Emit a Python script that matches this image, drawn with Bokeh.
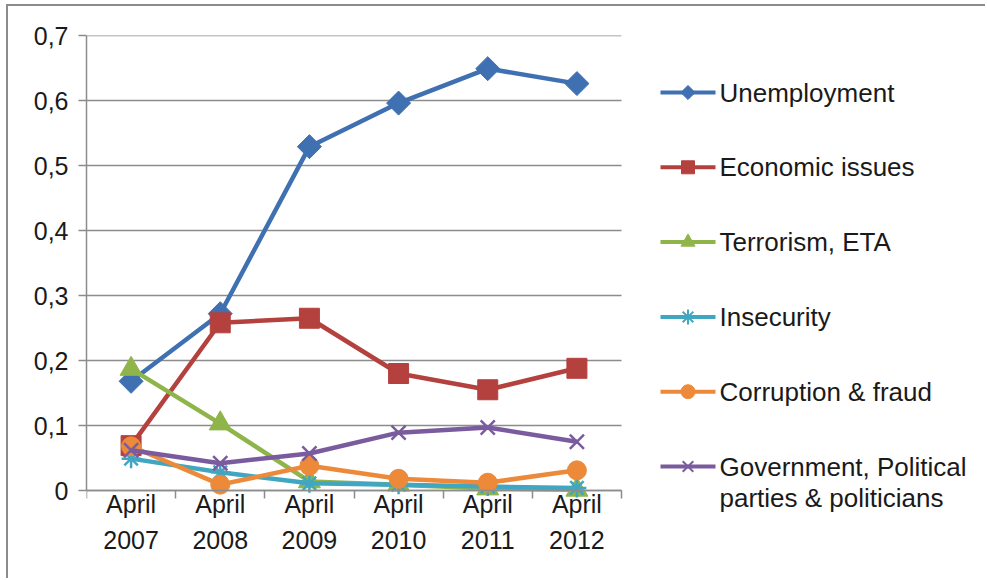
import math
from bokeh.plotting import figure
from bokeh.models import ColumnDataSource, Range1d, FixedTicker, CustomJSTickFormatter
from bokeh.core.properties import value
from bokeh.embed import file_html
from bokeh.resources import INLINE

periods = ["April\n2007", "April\n2008", "April\n2009", "April\n2010", "April\n2011", "April\n2012"]
unemployment = [0.168, 0.272, 0.529, 0.596, 0.649, 0.626]
economic = [0.069, 0.258, 0.265, 0.180, 0.155, 0.188]
terrorism = [0.187, 0.103, 0.014, 0.009, 0.003, 0.001]
insecurity = [0.049, 0.028, 0.011, 0.009, 0.006, 0.004]
corruption = [0.068, 0.009, 0.038, 0.018, 0.012, 0.031]
government = [0.062, 0.042, 0.057, 0.089, 0.097, 0.075]
series_names = ["Unemployment", "Economic issues", "Terrorism, ETA", "Insecurity",
                "Corruption & fraud", "Government, Political\nparties & politicians"]
y_ticks = [0, 0.1, 0.2, 0.3, 0.4, 0.5, 0.6, 0.7]

FONT = "Liberation Sans"
TXT = "#1a1a1a"
AX = "#8c8c8c"
n = len(periods)
xs = [i + 0.5 for i in range(n)]

# ---- layout (page pixels) ----
OFF_X, OFF_Y = 8, 6                 # outer frame border offset
FRAME_L, FRAME_R = 86, 987          # plotting frame (covers legend area too)
FRAME_T, FRAME_B = 35, 580
DATA_R = 621                        # where category axis ends
Y0_PX = 490                         # pixel row of value 0
px_per_x = (DATA_R - FRAME_L) / n
px_per_y = (Y0_PX - FRAME_T) / 0.7
x_end = (FRAME_R - FRAME_L) / px_per_x
y_start = -(FRAME_B - Y0_PX) / px_per_y


def dx(px):
    return (px - FRAME_L) / px_per_x


def dy(py):
    return (Y0_PX - py) / px_per_y


p = figure(width=987 - OFF_X, height=580 - OFF_Y, output_backend="svg", toolbar_location=None,
           x_range=Range1d(0, x_end), y_range=Range1d(y_start, 0.7),
           min_border_left=FRAME_L - OFF_X, min_border_right=0,
           min_border_top=FRAME_T - OFF_Y, min_border_bottom=0)
p.styles = {"margin-left": "6px", "margin-top": "4px",
            "border-left": "2px solid #8c8c8c", "border-top": "2px solid #8c8c8c"}
p.outline_line_color = None
p.background_fill_color = "white"
p.border_fill_color = "white"
p.xgrid.grid_line_color = None
p.ygrid.grid_line_color = None

# horizontal gridlines over the category span
p.segment(x0=[0] * len(y_ticks), x1=[n] * len(y_ticks), y0=y_ticks, y1=y_ticks,
          line_color=AX, line_width=1.5)

# x axis at value 0
p.xaxis.fixed_location = 0
p.xaxis.bounds = (0, n)
p.xaxis.ticker = FixedTicker(ticks=xs, minor_ticks=list(range(n + 1)))
p.xaxis.major_label_overrides = {x: lab for x, lab in zip(xs, periods)}
p.xaxis.major_tick_line_color = None
p.xaxis.major_tick_out = 0
p.xaxis.major_tick_in = 0
p.xaxis.minor_tick_line_color = AX
p.xaxis.minor_tick_line_width = 1.5
p.xaxis.minor_tick_out = 8
p.xaxis.minor_tick_in = 0
p.xaxis.axis_line_color = AX
p.xaxis.axis_line_width = 1.5
p.xaxis.major_label_text_font = FONT
p.xaxis.major_label_text_font_size = "25px"
p.xaxis.major_label_text_color = TXT
p.xaxis.major_label_text_line_height = 1.31
p.xaxis.major_label_standoff = -9

p.yaxis.bounds = (0, 0.7)
p.yaxis.ticker = FixedTicker(ticks=y_ticks, minor_ticks=[])
p.yaxis.formatter = CustomJSTickFormatter(
    code="return tick < 1e-9 ? '0' : tick.toFixed(1).replace('.', ',');")
p.yaxis.major_tick_line_color = AX
p.yaxis.major_tick_line_width = 1.5
p.yaxis.major_tick_out = 8
p.yaxis.major_tick_in = 0
p.yaxis.axis_line_color = AX
p.yaxis.axis_line_width = 1.5
p.yaxis.major_label_text_font = FONT
p.yaxis.major_label_text_font_size = "25px"
p.yaxis.major_label_text_color = TXT
p.yaxis.major_label_standoff = 10

colors = ["#3f70b1", "#b4413e", "#8fb54a", "#40a6c2", "#ec8a3a", "#7a5c9e"]
values = [unemployment, economic, terrorism, insecurity, corruption, government]
markers = [("square", 17, math.pi / 4), ("square", 20, 0), ("triangle", 22, 0),
           ("asterisk", 19, 0), ("circle", 19, 0), ("x", 20, 0)]
leg_markers = [("square", 10, math.pi / 4), ("square", 13, 0), ("triangle", 14, 0),
               ("asterisk", 15, 0), ("circle", 14, 0), ("x", 15, 0)]


def draw_marker(x, y, mk, sz, ang, col):
    if mk in ("asterisk", "x"):
        p.scatter(x, y, marker=mk, size=sz, line_color=col, line_width=2, fill_color=None)
    else:
        p.scatter(x, y, marker=mk, size=sz, angle=ang, fill_color=col, line_color=col,
                  line_width=1)


for vals, col, (mk, sz, ang) in zip(values, colors, markers):
    src = ColumnDataSource(dict(x=xs, y=vals))
    p.line("x", "y", source=src, line_color=col, line_width=4.5)
    if mk in ("asterisk", "x"):
        p.scatter("x", "y", source=src, marker=mk, size=sz, line_color=col,
                  line_width=2.5, fill_color=None)
    else:
        p.scatter("x", "y", source=src, marker=mk, size=sz, angle=ang,
                  fill_color=col, line_color=col, line_width=1)

# ---- legend (drawn inside the extended frame) ----
LEG_X0, LEG_X1, LEG_TX = 660, 715, 719
LEG_Y0, LEG_PITCH, LINE_GAP = 92, 74.8, 31
for i, (name, col, (mk, sz, ang)) in enumerate(zip(series_names, colors, leg_markers)):
    cy = LEG_Y0 + i * LEG_PITCH
    p.segment(x0=[dx(LEG_X0)], x1=[dx(LEG_X1)], y0=[dy(cy)], y1=[dy(cy)],
              line_color=col, line_width=4)
    draw_marker([dx((LEG_X0 + LEG_X1) / 2)], [dy(cy)], mk, sz, ang, col)
    lines = name.split("\n")
    p.text(x=[dx(LEG_TX)] * len(lines), y=[dy(cy + k * LINE_GAP) for k in range(len(lines))],
           text=lines, text_font=value(FONT), text_font_size=value("26px"),
           text_color=TXT, text_baseline="middle", text_align="left")

open("out.html", "w").write(file_html(p, INLINE))
